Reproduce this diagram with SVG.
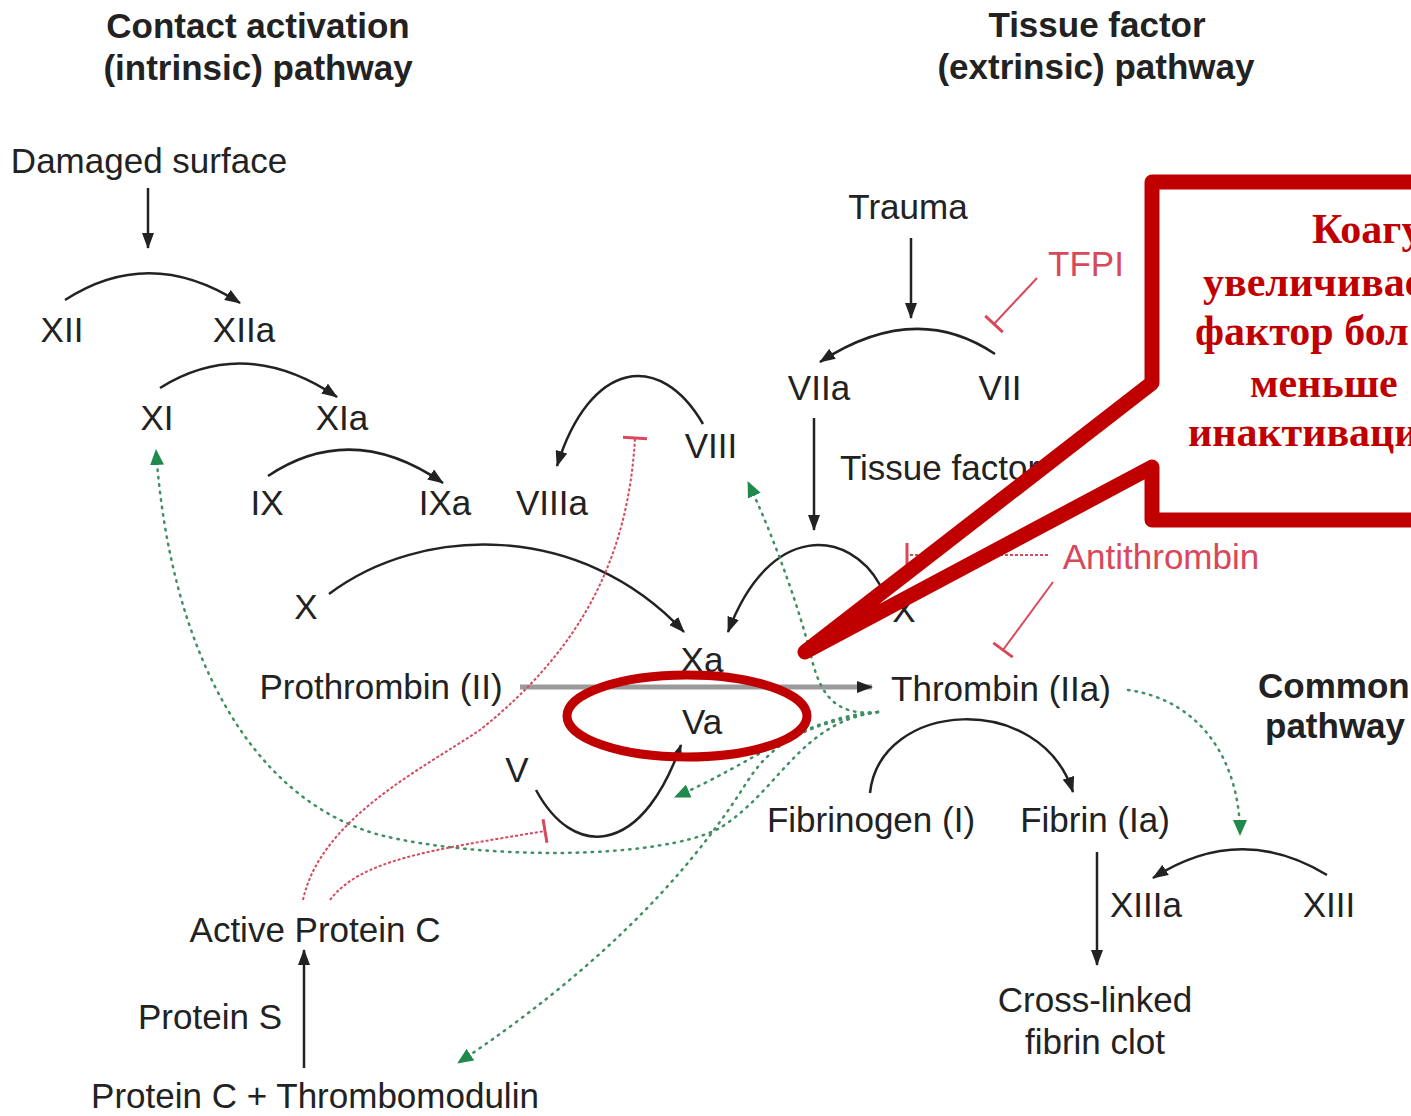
<svg xmlns="http://www.w3.org/2000/svg" width="1411" height="1116" viewBox="0 0 1411 1116">
<style>
text{font-family:"Liberation Sans",Arial,sans-serif;font-size:35px;fill:#222;text-anchor:middle}
.t{font-weight:bold}
.st{text-anchor:start}
.red{fill:#d9475a}
.blk{fill:none;stroke:#222;stroke-width:2.5}
.gry{fill:none;stroke:#9a9a9a;stroke-width:5}
.grn{fill:none;stroke:#3f8f63;stroke-width:2.5;stroke-dasharray:1.5 6;stroke-linecap:round}
.rdd{fill:none;stroke:#d44a5c;stroke-width:2;stroke-dasharray:3 2}
.rds{fill:none;stroke:#d9485a;stroke-width:2}
.co{font-family:"Liberation Serif","Times New Roman",serif;font-weight:bold;font-size:42px;fill:#c00000;text-anchor:start}
</style>
<defs>
<marker id="ah" markerUnits="userSpaceOnUse" markerWidth="16" markerHeight="12" refX="15" refY="6" orient="auto"><path d="M0,0 L16,6 L0,12 Z" fill="#222"/></marker>
<marker id="ag" markerUnits="userSpaceOnUse" markerWidth="16" markerHeight="14" refX="15" refY="7" orient="auto"><path d="M0,0 L16,7 L0,14 Z" fill="#1f8a4c"/></marker>
<marker id="tb" markerUnits="userSpaceOnUse" markerWidth="6" markerHeight="26" refX="3" refY="13" orient="auto"><path d="M3,1 L3,25" stroke="#d9485a" stroke-width="3"/></marker>
</defs>
<rect width="1411" height="1116" fill="#fff"/>

<g id="titles">
<text class="t" x="258" y="38">Contact activation</text>
<text class="t" x="258" y="80">(intrinsic) pathway</text>
<text class="t" x="1097" y="37">Tissue factor</text>
<text class="t" x="1096" y="79">(extrinsic) pathway</text>
<text class="t st" x="1258" y="698" font-size="34">Common</text>
<text class="t st" x="1265" y="738" font-size="34">pathway</text>
</g>

<g id="connectors">
<path class="blk" d="M148,188 L148,248" marker-end="url(#ah)"/>
<path class="blk" d="M65,300 Q150,245 240,303" marker-end="url(#ah)"/>
<path class="blk" d="M160,388 Q245,335 337,397" marker-end="url(#ah)"/>
<path class="blk" d="M268,476 Q352,420 443,483" marker-end="url(#ah)"/>
<path class="blk" d="M703,424 C660,350 590,360 557,466" marker-end="url(#ah)"/>
<path class="blk" d="M329,594 C420,525 580,520 684,632" marker-end="url(#ah)"/>
<path class="blk" d="M880,585 C850,530 770,520 728,632" marker-end="url(#ah)"/>
<path class="blk" d="M911,238 L911,318" marker-end="url(#ah)"/>
<path class="blk" d="M995,354 Q915,300 820,362" marker-end="url(#ah)"/>
<path class="blk" d="M814,418 L814,530" marker-end="url(#ah)"/>
<path class="gry" d="M520,687 L872,687" marker-end="url(#ah)"/>
<path class="blk" d="M536,790 C555,825 580,840 605,836 C640,830 665,790 681,745" marker-end="url(#ah)"/>
<path class="blk" d="M870,793 C880,700 1040,690 1073,792" marker-end="url(#ah)"/>
<path class="blk" d="M1097,852 L1097,965" marker-end="url(#ah)"/>
<path class="blk" d="M1327,875 Q1240,822 1153,878" marker-end="url(#ah)"/>
<path class="blk" d="M304,1068 L304,950" marker-end="url(#ah)"/>

<path class="grn" d="M878,712 C840,716 822,700 812,660 C800,610 775,540 748,482" marker-end="url(#ag)"/>
<path class="grn" d="M878,712 C800,718 760,760 675,797" marker-end="url(#ag)"/>
<path class="grn" d="M878,712 C800,722 780,790 720,828 C660,860 480,860 380,835 C250,800 170,650 156,450" marker-end="url(#ag)"/>
<path class="grn" d="M878,712 C800,725 770,745 745,785 Q650,935 458,1063" marker-end="url(#ag)"/>
<path class="grn" d="M1128,690 C1200,700 1240,760 1240,835" marker-end="url(#ag)"/>

<path class="rds" d="M1037,278 L994,324" marker-end="url(#tb)"/>
<path class="rdd" d="M1048,555 L907,555" marker-end="url(#tb)"/>
<path class="rds" d="M1053,582 L1003,650" marker-end="url(#tb)"/>
<path class="rdd" d="M303,900 C320,820 420,770 480,730 C580,650 628,560 635,438" marker-end="url(#tb)"/>
<path class="rdd" d="M330,900 C360,860 430,850 545,831" marker-end="url(#tb)"/>
</g>

<g id="n-damaged"><text x="149" y="173">Damaged surface</text></g>
<g id="n-xii"><text x="62" y="342">XII</text></g>
<g id="n-xiia"><text x="244" y="342">XIIa</text></g>
<g id="n-xi"><text x="157" y="430">XI</text></g>
<g id="n-xia"><text x="342" y="430">XIa</text></g>
<g id="n-ix"><text x="267" y="515">IX</text></g>
<g id="n-ixa"><text x="445" y="515">IXa</text></g>
<g id="n-viiia"><text x="552" y="515">VIIIa</text></g>
<g id="n-viii"><text x="711" y="458">VIII</text></g>
<g id="n-x"><text x="306" y="619">X</text></g>
<g id="n-xa"><text x="702" y="672">Xa</text></g>
<g id="n-prothrombin"><text x="381" y="699">Prothrombin (II)</text></g>
<g id="n-va"><text x="702" y="734">Va</text></g>
<g id="n-v"><text x="517" y="782">V</text></g>
<g id="n-apc"><text x="315" y="942">Active Protein C</text></g>
<g id="n-proteins"><text x="210" y="1029">Protein S</text></g>
<g id="n-pctm"><text x="315" y="1108">Protein C + Thrombomodulin</text></g>
<g id="n-trauma"><text x="908" y="219">Trauma</text></g>
<g id="n-tfpi"><text class="red" x="1086" y="276">TFPI</text></g>
<g id="n-viia"><text x="819" y="400">VIIa</text></g>
<g id="n-vii"><text x="1000" y="400">VII</text></g>
<g id="n-tf"><text class="st" x="840" y="480">Tissue factor</text></g>
<g id="n-at"><text class="red" x="1161" y="569">Antithrombin</text></g>
<g id="n-x2"><text x="904" y="622">X</text></g>
<g id="n-thrombin"><text x="1001" y="701">Thrombin (IIa)</text></g>
<g id="n-fibrinogen"><text x="871" y="832">Fibrinogen (I)</text></g>
<g id="n-fibrin"><text x="1095" y="832">Fibrin (Ia)</text></g>
<g id="n-xiiia"><text x="1146" y="917">XIIIa</text></g>
<g id="n-xiii"><text x="1329" y="917">XIII</text></g>
<g id="n-clot"><text x="1095" y="1012">Cross-linked</text><text x="1095" y="1054">fibrin clot</text></g>

<g id="annotation">
<ellipse cx="687" cy="716" rx="120" ry="41" fill="none" stroke="#c00000" stroke-width="9"/>
<path d="M1152,383 L1152,182 L1440,182 L1440,520 L1152,520 L1152,467 L805,652 Z" fill="#fff" stroke="#c00000" stroke-width="15" stroke-linejoin="round"/>
<text class="co" x="1312" y="243">Коагу</text>
<text class="co" x="1203" y="296">увеличивае</text>
<text class="co" x="1195" y="345">фактор бол</text>
<text class="co" x="1250" y="397">меньше</text>
<text class="co" x="1188" y="446">инактиваци</text>
</g>
</svg>
